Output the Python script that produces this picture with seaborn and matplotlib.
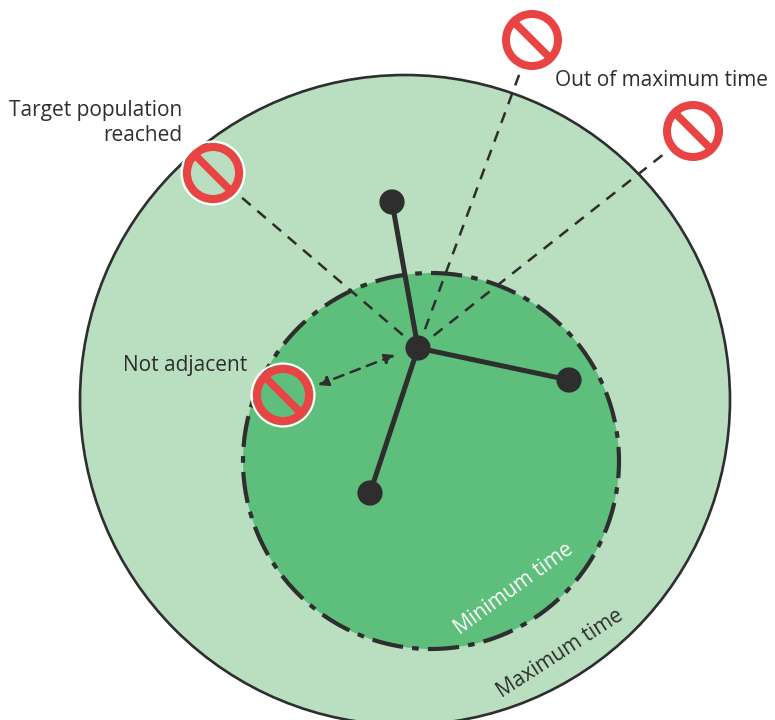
import numpy as np
import pandas as pd
import matplotlib
matplotlib.use('Agg')
import matplotlib.pyplot as plt
from matplotlib.patches import Circle, Wedge
import seaborn as sns

# Diagrama de área de captación (coordenadas en píxeles de la imagen)
outer_center = (405, 400)
outer_radius = 325
inner_center = (431, 461)
inner_radius = 188

hub = (418, 348)
node_x = [392, 569, 370]
node_y = [202, 380, 493]

# Señales de prohibición
sign_x = [213, 532, 693, 283]
sign_y = [173, 40, 131, 395]
sign_on_green = [True, False, False, True]

labels = ['Target population\nreached', 'Out of maximum time', 'Not adjacent']

sns.set_style('white')
plt.rcParams['font.family'] = ['Open Sans', 'DejaVu Sans']

DARK = '#2e2e2e'
RED = '#e94343'
LIGHT_GREEN = '#b9dec0'
GREEN = '#5ebe7b'

fig = plt.figure(figsize=(7.75, 7.2), dpi=100)
ax = fig.add_axes([0, 0, 1, 1])
ax.set_xlim(0, 775)
ax.set_ylim(720, 0)
ax.set_aspect('equal')
ax.axis('off')

# Círculos
ax.add_patch(Circle(outer_center, outer_radius, facecolor=LIGHT_GREEN,
                    edgecolor=DARK, linewidth=1.9, zorder=1))
ax.add_patch(Circle(inner_center, inner_radius, facecolor=GREEN,
                    edgecolor='none', zorder=2))
ax.add_patch(Circle(inner_center, inner_radius, facecolor='none',
                    edgecolor=DARK, linewidth=3,
                    linestyle=(0, (7.5, 2.2, 1.6, 2.2)), zorder=3))

# Líneas punteadas hacia las señales
sign_r = 30
for sx, sy in zip(sign_x[:3], sign_y[:3]):
    d = np.hypot(sx - hub[0], sy - hub[1])
    ex = sx - (sx - hub[0]) / d * (sign_r + 4)
    ey = sy - (sy - hub[1]) / d * (sign_r + 4)
    ax.plot([hub[0], ex], [hub[1], ey], color=DARK, linewidth=1.8,
            linestyle=(0, (4.5, 3.5)), zorder=4)

# Flecha "Not adjacent"
ax.annotate('', xy=(318, 385), xytext=(395, 355),
            arrowprops=dict(arrowstyle='<|-|>,head_length=0.6,head_width=0.3',
                            color=DARK, linewidth=1.8, linestyle=(0, (4, 3)),
                            shrinkA=0, shrinkB=0),
            zorder=4)

# Aristas y nodos
for nx, ny in zip(node_x, node_y):
    ax.plot([hub[0], nx], [hub[1], ny], color=DARK, linewidth=3.6,
            solid_capstyle='round', zorder=5)

nodes = pd.DataFrame({'x': node_x + [hub[0]], 'y': node_y + [hub[1]]})
sns.scatterplot(data=nodes, x='x', y='y', ax=ax, s=330, color=DARK,
                edgecolor='none', zorder=6, legend=False)

# Señales
for sx, sy, border in zip(sign_x, sign_y, sign_on_green):
    if border:
        ax.add_patch(Circle((sx, sy), sign_r + 1.5, facecolor='none',
                            edgecolor='white', linewidth=1.5, zorder=7))
    ax.add_patch(Wedge((sx, sy), sign_r, 0, 360, width=8, facecolor=RED,
                       edgecolor='none', zorder=8))
    r_in = sign_r - 8
    c = np.cos(np.pi / 4) * (r_in + 1)
    ax.plot([sx - c, sx + c], [sy - c, sy + c], color=RED, linewidth=5.5,
            solid_capstyle='butt', zorder=8)

# Textos
ax.text(182, 123, labels[0], ha='right', va='center', fontsize=15,
        color=DARK, linespacing=1.25)
ax.text(555, 80, labels[1], ha='left', va='center', fontsize=15, color=DARK)
ax.text(247, 365, labels[2], ha='right', va='center', fontsize=15, color=DARK)
ax.text(514, 589, 'Minimum time', ha='center', va='center', fontsize=15,
        color='white', rotation=36, rotation_mode='anchor')
ax.text(560, 654, 'Maximum time', ha='center', va='center', fontsize=15,
        color=DARK, rotation=33, rotation_mode='anchor')

fig.savefig('out.png', dpi=100)
